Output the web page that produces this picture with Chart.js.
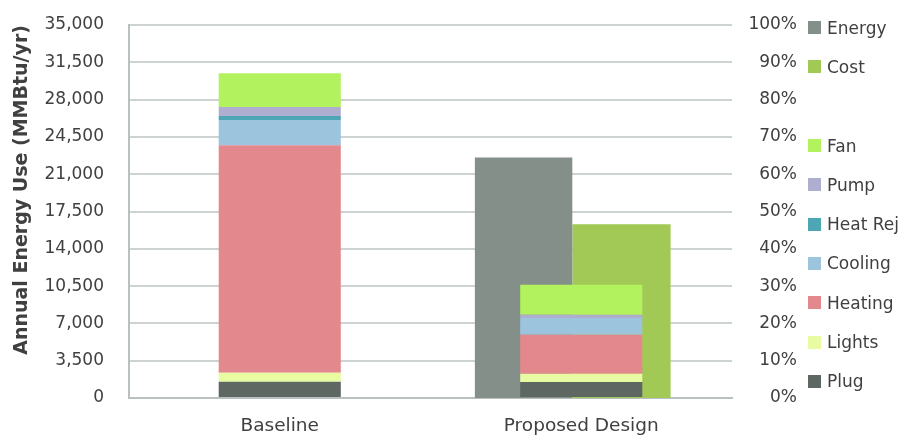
<!DOCTYPE html>
<html>
<head>
<meta charset="utf-8">
<script src="https://cdn.jsdelivr.net/npm/chart.js@4.4.1/dist/chart.umd.min.js"></script>
<style>
    html, body { margin: 0; padding: 0; background: #fff; }
    #wrap { position: relative; width: 909px; height: 437px; }
    #chart { display: block; }
    #legend {
        position: absolute; left: 808px; top: 8px; margin: 0; padding: 0; list-style: none;
        font: 17px 'DejaVu Sans', sans-serif; color: #404040;
    }
    #legend li { height: 39.3px; display: flex; align-items: center; white-space: nowrap; }
    #legend .box { width: 13px; height: 13px; margin-right: 6px; flex: none; }
</style>
</head>
<body>
<div id="wrap">
    <canvas id="chart" width="909" height="437"></canvas>
    <ul id="legend"></ul>
</div>
<script>
const categories = ['Baseline', 'Proposed Design'];

// end uses, MMBtu/yr (bottom of stack first)
const plug = [1530, 1500];
const lights = [845, 780];
const heating = [21335, 3660];
const cooling = [2375, 1565];
const heatRej = [375, 0];
const pump = [845, 310];
const fan = [3160, 2815];

// savings vs baseline, right axis
const energySavings = [null, 0.645];
const costSavings = [null, 0.466];

const useSeries = [
    { label: 'Plug', data: plug },
    { label: 'Lights', data: lights },
    { label: 'Heating', data: heating },
    { label: 'Cooling', data: cooling },
    { label: 'Heat Rej', data: heatRej },
    { label: 'Pump', data: pump },
    { label: 'Fan', data: fan },
];
const savingSeries = [
    { label: 'Energy', data: energySavings },
    { label: 'Cost', data: costSavings },
];

const colors = {
    'Plug': '#5e6762',
    'Lights': '#e9fba2',
    'Heating': '#e3898d',
    'Cooling': '#9dc4dd',
    'Heat Rej': '#4ea6b5',
    'Pump': '#b0aed0',
    'Fan': '#b2f25e',
    'Energy': '#838f88',
    'Cost': '#a2c955',
};

// excel put the savings pair a little left of the category centre;
// per-dataset widths reproduce that
const savingBarSizing = {
    'Energy': { categoryPercentage: 0.765, barPercentage: 0.845 },
    'Cost': { categoryPercentage: 0.534, barPercentage: 1.22 },
};

function initChart() {
    const canvas = document.getElementById('chart');
    const font = "'DejaVu Sans', sans-serif";
    const text = '#404040';
    const grid = '#cdd2d2';

    Chart.defaults.font.family = font;
    Chart.defaults.color = text;

    const datasets = [
        // stacked end uses sit in the middle of the category, over the savings bars
        ...useSeries.map((s) => ({
            label: s.label,
            data: s.data,
            backgroundColor: colors[s.label],
            borderWidth: 0,
            stack: 'use',
            grouped: false,
            yAxisID: 'y',
            categoryPercentage: 1,
            barPercentage: 0.405,
        })),
        ...savingSeries.map((s) => ({
            label: s.label,
            data: s.data,
            backgroundColor: colors[s.label],
            borderWidth: 0,
            stack: s.label,
            yAxisID: 'y1',
            ...savingBarSizing[s.label],
        })),
    ];

    new Chart(canvas, {
        type: 'bar',
        data: { labels: categories, datasets },
        options: {
            responsive: false,
            animation: false,
            layout: { padding: { top: 25, right: 112, bottom: 0, left: 0 } },
            plugins: {
                legend: { display: false },
                tooltip: { enabled: false },
            },
            scales: {
                x: {
                    stacked: true,
                    afterFit: (axis) => { axis.height = 39; },
                    grid: { display: false, drawTicks: false },
                    border: { color: '#b9c0c0', width: 2 },
                    ticks: { padding: 17, color: text, font: { size: 18.5 } },
                },
                y: {
                    stacked: true,
                    min: 0,
                    max: 35000,
                    afterFit: (axis) => { axis.width = 129; },
                    // invisible tick marks give the label gap without padding the top
                    grid: { color: grid, lineWidth: 2, tickLength: 25, tickColor: 'rgba(0,0,0,0)' },
                    border: { color: '#b9c0c0', width: 2 },
                    ticks: {
                        stepSize: 3500,
                        padding: 0,
                        color: text,
                        font: { size: 17 },
                        callback: (v) => v.toLocaleString('en-US'),
                    },
                    title: {
                        display: true,
                        text: 'Annual Energy Use (MMBtu/yr)',
                        color: text,
                        align: 'end',
                        font: { size: 19, weight: 'bold' },
                        padding: { top: 11, bottom: 0 },
                    },
                },
                y1: {
                    position: 'right',
                    stacked: true,
                    min: 0,
                    max: 1,
                    afterFit: (axis) => { axis.width = 65; },
                    grid: { display: false, drawTicks: false },
                    border: { display: false },
                    ticks: {
                        stepSize: 0.1,
                        padding: 11,
                        crossAlign: 'far',
                        color: text,
                        font: { size: 17 },
                        callback: (v) => Math.round(v * 100) + '%',
                    },
                },
            },
        },
    });

    // legend: savings first, a blank row, then end uses top to bottom
    const legend = document.getElementById('legend');
    const rows = [...savingSeries, null, ...useSeries.slice().reverse()];
    rows.forEach((s) => {
        const li = document.createElement('li');
        if (s) {
            const box = document.createElement('span');
            box.className = 'box';
            box.style.background = colors[s.label];
            li.appendChild(box);
            li.appendChild(document.createTextNode(s.label));
        }
        legend.appendChild(li);
    });
}

if (document.readyState === 'loading') {
    document.addEventListener('DOMContentLoaded', initChart);
} else {
    initChart();
}
</script>
</body>
</html>
